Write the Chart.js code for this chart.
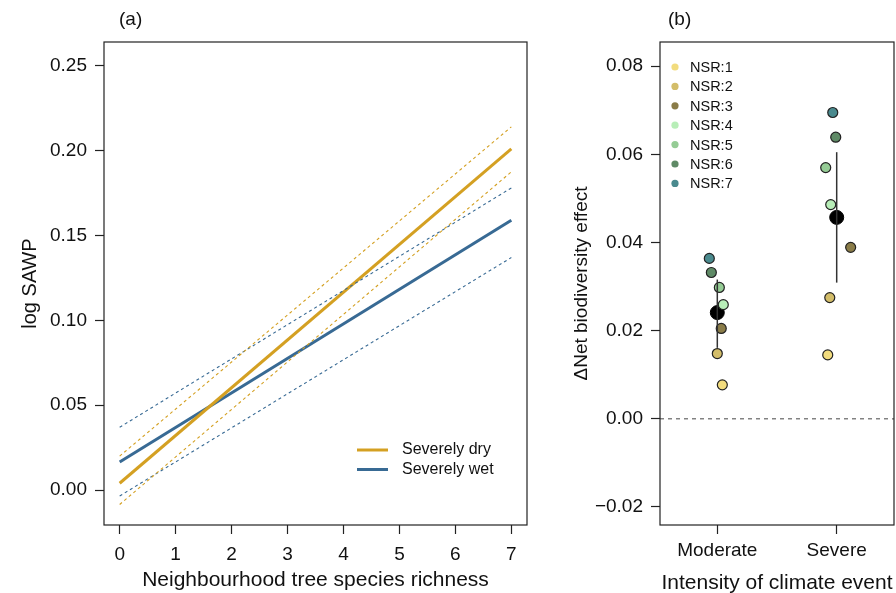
<!DOCTYPE html>
<html>
<head>
<meta charset="utf-8">
<script src="https://cdn.jsdelivr.net/npm/chart.js@4.4.0/dist/chart.umd.min.js"></script>
<style>
  body { margin: 0; background: #fff; }
  #wrap { position: relative; width: 896px; height: 593px; overflow: hidden; }
  canvas { position: absolute; top: 0; }
  #chartA { left: 0; }
  #chartB { left: 545px; }
</style>
</head>
<body>
<div id="wrap">
  <canvas id="chartA" width="545" height="593"></canvas>
  <canvas id="chartB" width="351" height="593"></canvas>
</div>
<script>
// panel (a): fitted lines at species richness 0 and 7
const richness = [0, 7];
const dryFit = [0.004, 0.201];
const dryUpper = [0.020, 0.214];
const dryLower = [-0.0085, 0.1875];
const wetFit = [0.0165, 0.159];
const wetUpper = [0.037, 0.178];
const wetLower = [-0.0035, 0.137];

// panel (b): net biodiversity effect per NSR level
const nsrLabels = ["NSR:1", "NSR:2", "NSR:3", "NSR:4", "NSR:5", "NSR:6", "NSR:7"];
const nsrColors = ["#F2DC7E", "#D3BD69", "#8A7C48", "#B8EEB8", "#95CC95", "#5F8A66", "#4A8A8E"];
const modX = [1.042, 1.0, 1.033, 1.05, 1.017, 0.95, 0.933];
const modY = [0.0077, 0.0148, 0.0205, 0.0259, 0.0298, 0.0332, 0.0364];
const sevX = [1.925, 1.942, 2.117, 1.95, 1.908, 1.992, 1.967];
const sevY = [0.0145, 0.0275, 0.0389, 0.0486, 0.0570, 0.0639, 0.0695];
const intensity = [1, 2];
const intensityLabels = ["Moderate", "Severe"];
const meanY = [0.0241, 0.0457];
const lowerY = [0.0161, 0.0309];
const upperY = [0.0316, 0.0605];

const FONT = "'Liberation Sans', Arial, Helvetica, sans-serif";
Chart.defaults.font.family = FONT;
Chart.defaults.color = "#111";

const DRY = "#D4A022";
const WET = "#386A94";

function fmt(v) {
  return v.toFixed(2).replace("-", "\u2212");
}

// box around plot area + panel letter + custom legend
const boxPlugin = {
  id: "box",
  afterDraw(chart, args, opts) {
    const { ctx, chartArea } = chart;
    ctx.save();
    ctx.strokeStyle = "#222";
    ctx.lineWidth = 1.2;
    ctx.strokeRect(chartArea.left, chartArea.top, chartArea.right - chartArea.left, chartArea.bottom - chartArea.top);
    ctx.fillStyle = "#111";
    ctx.font = "19px " + FONT;
    ctx.textBaseline = "middle";
    ctx.textAlign = "left";
    ctx.fillText(opts.letter, opts.letterX, 20);

    if (opts.legend === "lines") {
      ctx.font = "16px " + FONT;
      chart.data.datasets.filter((d) => d.inLegend).forEach((d, i) => {
        const y = 450 + i * 19.5;
        ctx.strokeStyle = d.borderColor;
        ctx.lineWidth = 3;
        ctx.beginPath();
        ctx.moveTo(357, y);
        ctx.lineTo(388, y);
        ctx.stroke();
        ctx.fillText(d.label, 402, y);
      });
    } else if (opts.legend === "dots") {
      ctx.font = "14.5px " + FONT;
      chart.data.datasets.filter((d) => d.inLegend).forEach((d, i) => {
        const y = 67 + i * 19.4;
        ctx.fillStyle = d.backgroundColor;
        ctx.beginPath();
        ctx.arc(130, y, 3.6, 0, Math.PI * 2);
        ctx.fill();
        ctx.fillStyle = "#111";
        ctx.fillText(d.label, 145, y + 1);
      });
    }
    ctx.restore();
  },
};

function pts(xs, ys) {
  return xs.map((x, i) => ({ x: x, y: ys[i] }));
}

function fitLine(label, ys, color) {
  return { label: label, data: pts(richness, ys), borderColor: color, borderWidth: 3, pointRadius: 0, inLegend: true };
}
function ciLine(ys, color) {
  return { data: pts(richness, ys), borderColor: color, borderWidth: 1.1, borderDash: [3, 3], pointRadius: 0 };
}

function fixX(h) {
  return (s) => {
    s.height = h;
    s.paddingLeft = 0;
    s.paddingRight = 0;
  };
}
function fixY(w) {
  return (s) => {
    s.width = w;
    s.paddingTop = 0;
    s.paddingBottom = 0;
  };
}

new Chart(document.getElementById("chartA"), {
  type: "line",
  data: {
    datasets: [
      ciLine(dryUpper, DRY),
      ciLine(dryLower, DRY),
      ciLine(wetUpper, WET),
      ciLine(wetLower, WET),
      fitLine("Severely dry", dryFit, DRY),
      fitLine("Severely wet", wetFit, WET),
    ],
  },
  options: {
    responsive: false,
    animation: false,
    layout: { autoPadding: false, padding: { top: 42, right: 18, left: 0, bottom: 0 } },
    plugins: {
      legend: { display: false },
      tooltip: { enabled: false },
      box: { letter: "(a)", letterX: 119, legend: "lines" },
    },
    scales: {
      x: {
        type: "linear",
        min: -0.28,
        max: 7.28,
        afterFit: fixX(68),
        border: { display: false },
        grid: { drawOnChartArea: false, tickLength: 9, tickColor: "#222", tickWidth: 1.2 },
        ticks: { stepSize: 1, includeBounds: false, font: { size: 19 }, padding: 9 },
        title: { display: true, text: "Neighbourhood tree species richness", font: { size: 21 }, padding: { bottom: 0 } },
      },
      y: {
        min: -0.0206,
        max: 0.264,
        afterFit: fixY(104),
        border: { display: false },
        grid: { drawOnChartArea: false, tickLength: 9, tickColor: "#222", tickWidth: 1.2 },
        ticks: { stepSize: 0.05, includeBounds: false, font: { size: 19 }, padding: 8, callback: (v) => fmt(v) },
        title: { display: true, text: "log SAWP", font: { size: 20 }, padding: { top: 18 } },
      },
    },
  },
  plugins: [boxPlugin],
});

const nsrSets = nsrLabels.map((lab, i) => ({
  type: "scatter",
  label: lab,
  data: [{ x: modX[i], y: modY[i] }, { x: sevX[i], y: sevY[i] }],
  backgroundColor: nsrColors[i],
  borderColor: "#222",
  borderWidth: 1.2,
  pointRadius: 5,
  inLegend: true,
}));

const errSets = intensity.map((x, i) => ({
  type: "line",
  data: [{ x: x, y: lowerY[i] }, { x: x, y: upperY[i] }],
  borderColor: "#333",
  borderWidth: 1.5,
  pointRadius: 0,
}));

new Chart(document.getElementById("chartB"), {
  type: "scatter",
  data: {
    datasets: [
      {
        type: "line",
        data: [{ x: 0.52, y: 0 }, { x: 2.48, y: 0 }],
        borderColor: "#666",
        borderWidth: 1.2,
        borderDash: [4, 4],
        pointRadius: 0,
      },
      ...errSets,
      ...nsrSets,
      {
        type: "scatter",
        data: pts(intensity, meanY),
        backgroundColor: "#000",
        borderColor: "#000",
        pointRadius: 7,
      },
    ],
  },
  options: {
    responsive: false,
    animation: false,
    layout: { autoPadding: false, padding: { top: 42, right: 2, left: 0, bottom: 0 } },
    plugins: {
      legend: { display: false },
      tooltip: { enabled: false },
      box: { letter: "(b)", letterX: 123, legend: "dots" },
    },
    scales: {
      x: {
        type: "linear",
        min: 0.52,
        max: 2.48,
        afterFit: fixX(68),
        afterBuildTicks(s) { s.ticks = intensity.map((v) => ({ value: v })); },
        border: { display: false },
        grid: { drawOnChartArea: false, tickLength: 9, tickColor: "#222", tickWidth: 1.2 },
        ticks: { font: { size: 19 }, padding: 5, callback: (v) => intensityLabels[intensity.indexOf(v)] },
        title: { display: true, text: "Intensity of climate event", font: { size: 21 }, padding: { bottom: -3 } },
      },
      y: {
        min: -0.0241,
        max: 0.0855,
        afterFit: fixY(115),
        border: { display: false },
        grid: { drawOnChartArea: false, tickLength: 9, tickColor: "#222", tickWidth: 1.2 },
        ticks: { stepSize: 0.02, includeBounds: false, font: { size: 19 }, padding: 8, callback: (v) => fmt(v) },
        title: { display: true, text: "\u0394Net biodiversity effect", font: { size: 19 }, padding: { top: 25 } },
      },
    },
  },
  plugins: [boxPlugin],
});
</script>
</body>
</html>
